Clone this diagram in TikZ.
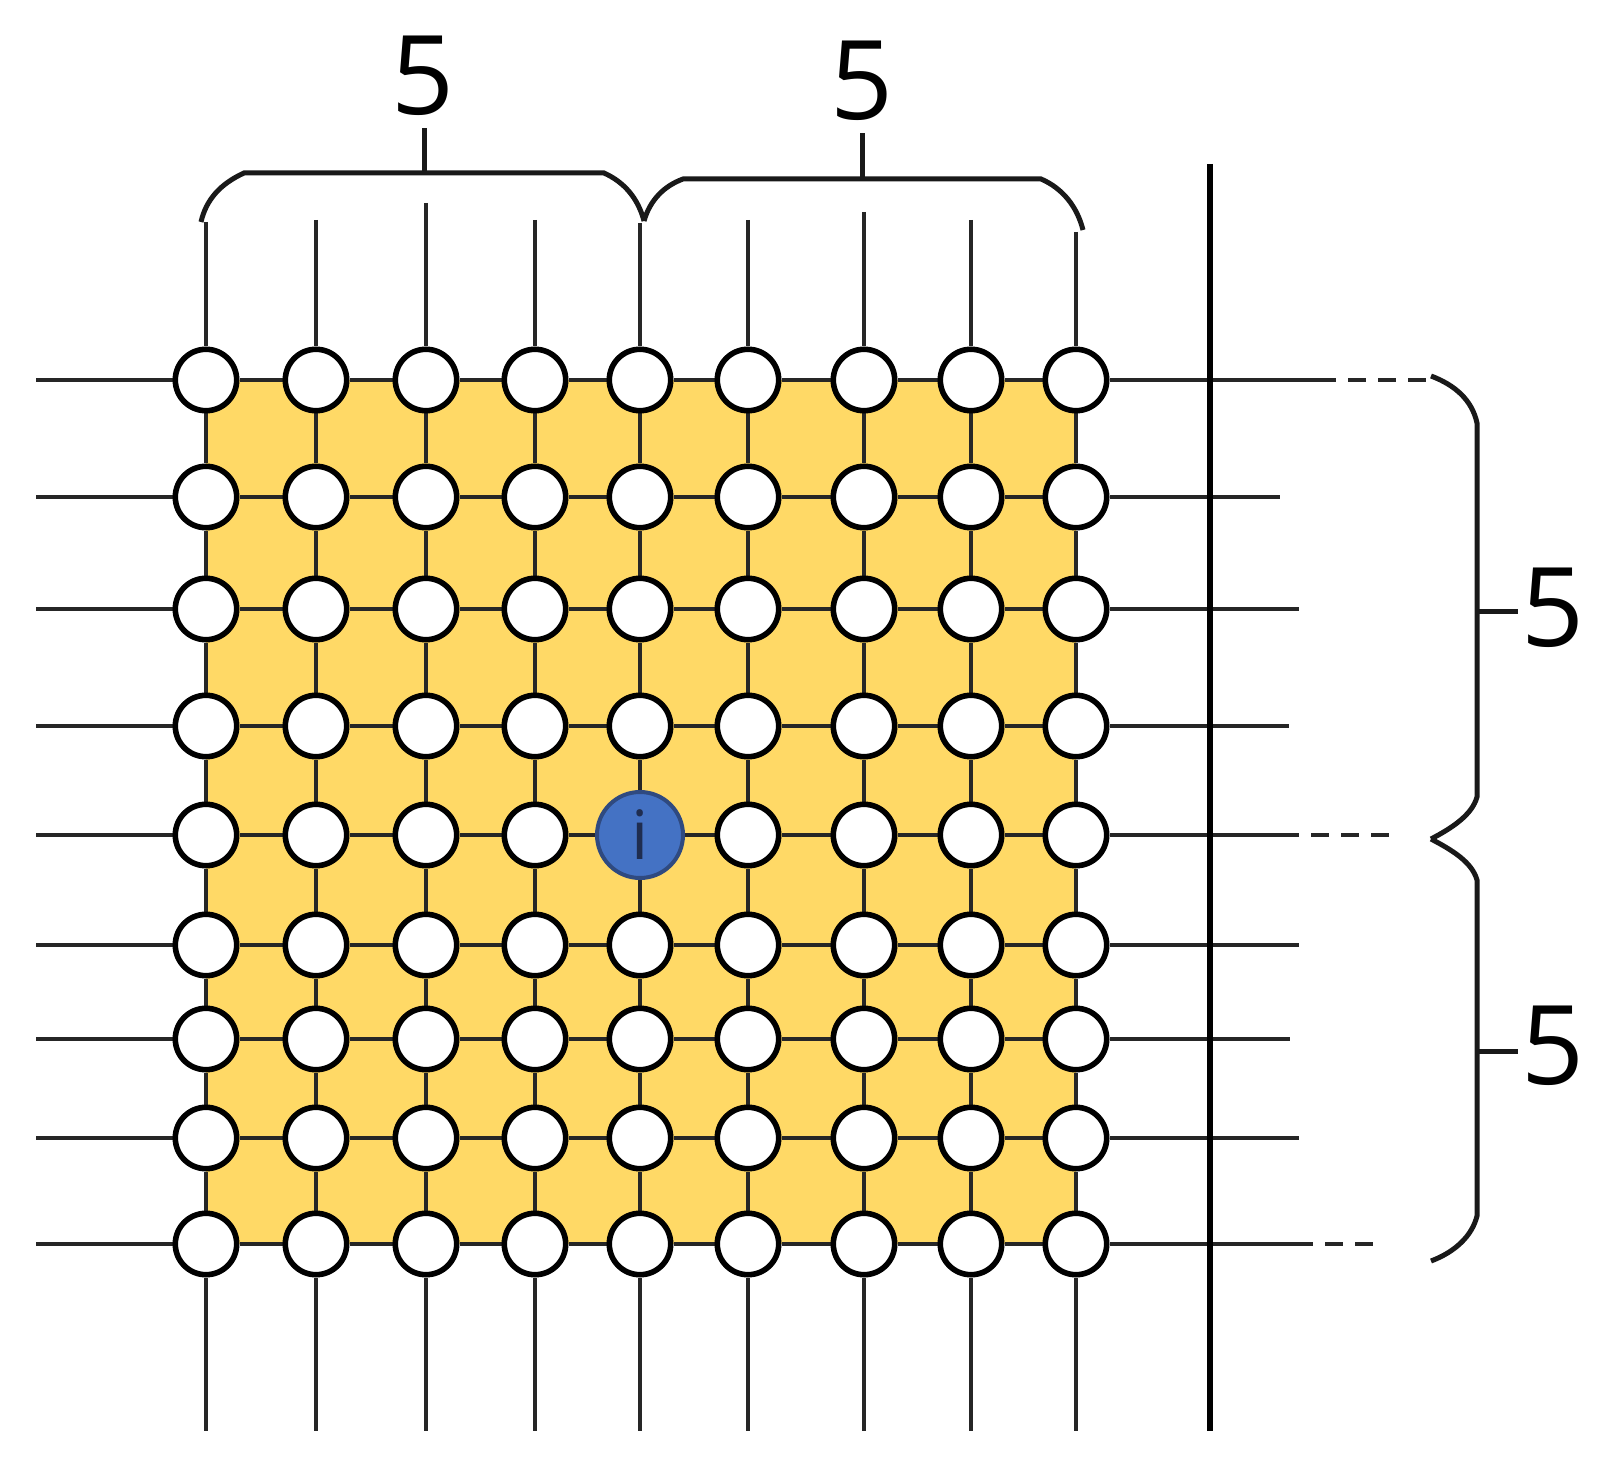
\documentclass[tikz,border=0pt]{standalone}
\usepackage{fontspec}
\setmainfont{Open Sans}
\pgfdeclarelayer{background}
\pgfsetlayers{background,main}
\definecolor{gridfill}{HTML}{FFD966}
\definecolor{iblue}{HTML}{4472C4}
\definecolor{iborder}{HTML}{2F4A80}
\definecolor{itext}{HTML}{1F2D50}
\begin{document}
\begin{tikzpicture}[x=0.5pt,y=-0.5pt,
  wire/.style={line width=2.2pt, draw=black!85},
  bracepath/.style={line width=2.5pt, draw=black!90},
  dashwire/.style={line width=2.2pt, draw=black!85, dash pattern=on 9pt off 6pt, dash phase=9pt},
  vnode/.style={circle, draw=black, line width=2.8pt, fill=white, minimum size=30.7pt, inner sep=0pt},
  inode/.style={circle, draw=iborder, line width=2pt, fill=iblue, minimum size=43pt, inner sep=0pt,
    text=itext, font=\fontsize{34}{36}\selectfont},
  countlabel/.style={inner sep=0pt, font=\fontsize{55}{60}\selectfont}]
\useasboundingbox (0,0) rectangle (1608,1471);

% nodes
\foreach \y [count=\r] in {380,497,609,726,835,945,1039,1138,1244}{
  \foreach \x [count=\c] in {206,316,426,535,640,748,864,971,1076}{
    \ifnum\r=5 \ifnum\c=5
      \node[inode] (n-\r-\c) at (\x,\y) {i};
    \else
      \node[vnode] (n-\r-\c) at (\x,\y) {};
    \fi\else
      \node[vnode] (n-\r-\c) at (\x,\y) {};
    \fi
  }
  \coordinate (L-\r) at (36,\y);
}

% free ends on the right
\foreach \r/\e in {1/1336,2/1280,3/1299,4/1289,5/1299,6/1299,7/1290,8/1299,9/1313}{
  \coordinate (R-\r) at (\e, 0 |- n-\r-9);
}
\coordinate (D-1) at (1427,380);
\coordinate (D-5) at (1395,835);
\coordinate (D-9) at (1374,1244);

% free ends top and bottom
\foreach \c/\t in {1/222,2/220,3/203,4/220,5/223,6/220,7/212,8/220,9/232}{
  \coordinate (T-\c) at (n-1-\c |- 0,\t);
  \coordinate (B-\c) at (n-9-\c |- 0,1431);
}
\coordinate (VT) at (1210,164);
\coordinate (VB) at (1210,1431);

\begin{pgfonlayer}{background}
  \fill[gridfill] (n-1-1.center) rectangle (n-9-9.center);
  % grid edges
  \foreach \r in {1,...,9}{
    \foreach \c [evaluate=\c as \cn using int(\c+1)] in {1,...,8}{
      \draw[wire] (n-\r-\c) -- (n-\r-\cn);
    }
    \draw[wire] (L-\r) -- (n-\r-1);
    \draw[wire] (n-\r-9) -- (R-\r);
  }
  \foreach \c in {1,...,9}{
    \foreach \r [evaluate=\r as \rn using int(\r+1)] in {1,...,8}{
      \draw[wire] (n-\r-\c) -- (n-\rn-\c);
    }
    \draw[wire] (T-\c) -- (n-1-\c);
    \draw[wire] (n-9-\c) -- (B-\c);
  }
  \draw[dashwire] (R-1) -- (D-1);
  \draw[dashwire] (R-5) -- (D-5);
  \draw[dashwire] (R-9) -- (D-9);
  \draw[line width=2.6pt, draw=black] (VT) -- (VB);
\end{pgfonlayer}

% top braces
\draw[bracepath] (201,222) .. controls (206,200) and (220,184) .. (244,173)
  -- (604,173) .. controls (624,182) and (638,198) .. (644,221);
\draw[bracepath] (424,173) -- (424,128);
\node[countlabel] (lab-t1) at (423,76) {5};
\draw[bracepath] (644,221) .. controls (650,200) and (664,186) .. (683,179)
  -- (1041,179) .. controls (1062,188) and (1077,206) .. (1083,230);
\draw[bracepath] (862,179) -- (862,133);
\node[countlabel] (lab-t2) at (862,81) {5};

% right braces
\draw[bracepath] (1431,376) .. controls (1455,385) and (1472,400) .. (1477,423)
  -- (1477,797) .. controls (1472,815) and (1452,828) .. (1431,839);
\draw[bracepath] (1431,839) .. controls (1452,850) and (1472,862) .. (1477,880)
  -- (1477,1216) .. controls (1472,1236) and (1455,1252) .. (1431,1261);
\draw[bracepath] (1477,611) -- (1518,611);
\node[countlabel] (lab-r1) at (1553,608) {5};
\draw[bracepath] (1477,1051) -- (1518,1051);
\node[countlabel] (lab-r2) at (1553,1046) {5};
\end{tikzpicture}
\end{document}
